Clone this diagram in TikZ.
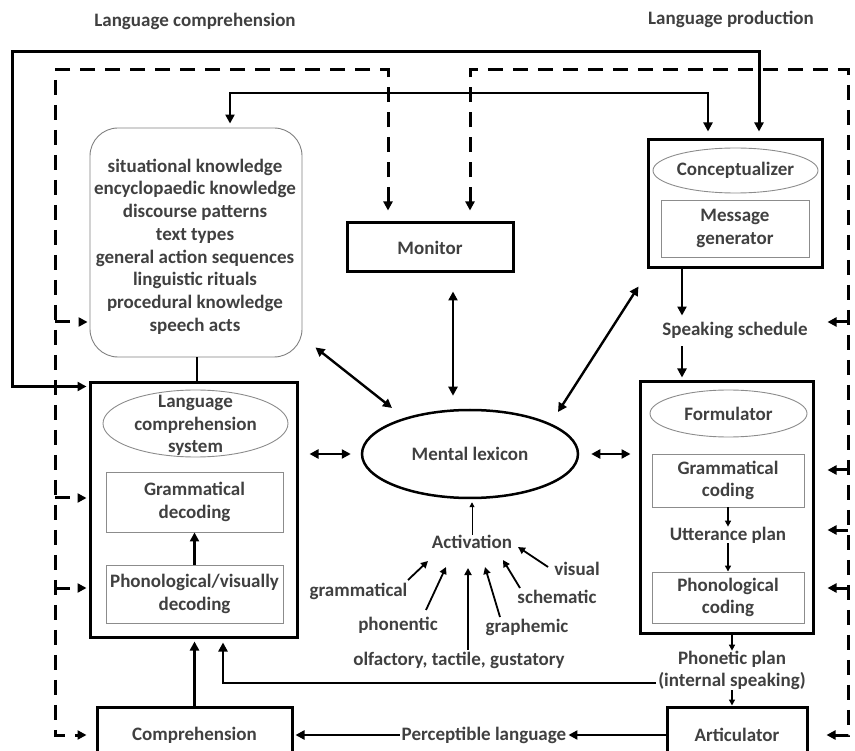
\documentclass[tikz,border=0pt]{standalone}
\usepackage{fontspec}
\setmainfont{Carlito}
\usetikzlibrary{arrows.meta,shapes.geometric,calc}

\begin{document}
\begin{tikzpicture}[x=1pt,y=-1pt,
  >={Triangle[length=9pt,width=9pt]},
  every node/.style={font=\fontsize{19}{22.7}\selectfont\bfseries, text=black!75, align=center, inner sep=0pt},
  outerbox/.style={draw=black, line width=3pt},
  innerbox/.style={draw=black!45, line width=0.9pt},
  innerell/.style={ellipse, draw=black!45, line width=0.9pt},
  conn/.style={draw=black, line width=2.4pt},
  dashconn/.style={draw=black, line width=3pt, dash pattern=on 15pt off 10pt},
  smallarr/.style={draw=black, line width=1.4pt, -{Triangle[length=6pt,width=6pt]}},
  actarr/.style={draw=black, line width=1.8pt, -{Triangle[length=7pt,width=7pt]}}]
\useasboundingbox (0,0) rectangle (855,751);

% titles
\node (ttlC) at (195,21) {Language comprehension};
\node (ttlP) at (731,19) {Language production};

% knowledge store
\node[draw=black!50, line width=0.9pt, rounded corners=28pt, minimum width=212pt, minimum height=229pt] (know) at (196,242.5) {};
\node (knowtxt) at (195,246.5) {situational knowledge\\encyclopaedic knowledge\\discourse patterns\\text types\\general action sequences\\linguistic rituals\\procedural knowledge\\speech acts};

% monitor
\node[outerbox, minimum width=166pt, minimum height=49pt] (mon) at (430,247.5) {Monitor};

% conceptualizer
\node[outerbox, minimum width=174pt, minimum height=128pt] (conc) at (735,204) {};
\node[innerell, minimum width=165pt, minimum height=45pt] (concell) at (735.5,170.5) {};
\node (conctxt) at (concell) {Conceptualizer};
\node[innerbox, minimum width=148pt, minimum height=57pt] (msg) at (735,228.5) {Message\\generator};

\node (spk) at (735,330) {Speaking schedule};

% comprehension system
\node[outerbox, minimum width=207pt, minimum height=254pt] (lc) at (193.5,510) {};
\node[innerell, minimum width=185pt, minimum height=67pt] (lcs) at (195.5,423.5) {};
\node (lcstxt) at (195.5,425.5) {Language\\comprehension\\system};
\node[innerbox, minimum width=177pt, minimum height=60pt] (gdec) at (194.5,502) {Grammatical\\decoding};
\node[innerbox, minimum width=177pt, minimum height=58pt] (pdec) at (194.5,594) {Phonological/visually\\decoding};

% formulator
\node[outerbox, minimum width=173pt, minimum height=251pt] (form) at (726.5,507.5) {};
\node[innerell, minimum width=157pt, minimum height=47pt] (formell) at (728.5,413.5) {};
\node (formtxt) at (formell) {Formulator};
\node[innerbox, minimum width=152pt, minimum height=53pt] (gcod) at (728,480.5) {Grammatical\\coding};
\node (utt) at (728,535) {Utterance plan};
\node[innerbox, minimum width=152pt, minimum height=51pt] (pcod) at (728,597.5) {Phonological\\coding};

% lexicon and activation
\node[ellipse, draw=black, line width=2.5pt, minimum width=216pt, minimum height=88pt] (lex) at (470,454) {Mental lexicon};
\node (act) at (472,542) {Activation};
\node (lgram) at (358.5,591) {grammatical};
\node (lphon) at (398,625) {phonentic};
\node (lolf) at (459,660) {olfactory, tactile, gustatory};
\node (lgraph) at (527,627) {graphemic};
\node (lschem) at (557,597) {schematic};
\node (lvis) at (577,569) {visual};

% output side
\node (phon) at (732,670.5) {Phonetic plan\\(internal speaking)};
\node[outerbox, minimum width=140pt, minimum height=56pt] (art) at (737,735) {Articulator};
\node[outerbox, minimum width=195pt, minimum height=56pt] (comp) at (194.5,735) {Comprehension};
\node (perc) at (484,735) {Perceptible language};

% long solid feedback loops
\coordinate (tl) at (12,52);
\draw[conn, line width=3pt, <->] ([xshift=24pt,yshift=7pt]conc.north) |- (tl) |- ([xshift=-2pt,yshift=-5pt]lc.north west);
\coordinate (t2) at (470,93);
\draw[conn, <->] ([xshift=-27pt,yshift=7pt]conc.north) |- (t2) -| ([xshift=34pt,yshift=4pt]know.north);

% dashed monitoring loops
\coordinate (dtl) at (55,70);
\coordinate (dtr) at (848,70);
\draw[dashconn, <->] ([xshift=-42pt,yshift=11pt]mon.north) |- (dtl) |- ([xshift=-9pt]comp.west);
\draw[dashconn, <->] ([xshift=40pt,yshift=11pt]mon.north) |- (dtr) |- ([xshift=18pt]art.east);
\foreach \yy/\tgt in {322/know, 498/lc, 588/lc}{
  \coordinate (bl) at (55,\yy);
  \draw[dashconn, ->] (bl) -- ([xshift=-2pt]bl -| \tgt.west);
}
\foreach \yy in {322, 470, 530, 588}{
  \coordinate (br) at (848,\yy);
  \draw[dashconn, ->] (br) -- ([xshift=13pt]br -| form.east);
}

% links around the lexicon
\draw[conn, <->, shorten <=18pt, shorten >=13pt] ([xshift=23pt]mon.south) -- ([xshift=23pt]mon.south |- lex.north);
\draw[conn, <->] ($(know.south east)+(13,-10)$) -- ($(lex.center)+(-78,-46)$);
\draw[conn, <->] ($(conc.south west)+(-8,17)$) -- ($(lex.center)+(88,-42)$);
\draw[conn, <->] ([xshift=11pt]lc.east |- lex.west) -- ([xshift=-10pt]lex.west);
\draw[conn, <->] ([xshift=12pt]lex.east) -- ([xshift=-8pt]form.west |- lex.east);
\draw[draw=black, line width=1pt, -{Triangle[length=5pt,width=5pt]}, shorten >=3pt] (act.north) -- (act.north |- lex.south);

% sources of activation
\draw[actarr] ($(lgram)+(49.5,-11)$) -- ($(act)+(-44,19)$);
\draw[actarr] ($(lphon)+(28,-15)$) -- ($(act)+(-26,25)$);
\draw[actarr] ($(lolf)+(9,-10)$) -- ($(act)+(-4,26)$);
\draw[actarr] ($(lgraph)+(-27,-10)$) -- ($(act)+(13,25)$);
\draw[actarr] ($(lschem)+(-37,-9)$) -- ($(act)+(31,18)$);
\draw[actarr] ($(lvis)+(-29,-2)$) -- ($(act)+(46,5)$);

% comprehension chain
\draw[draw=black, line width=1.5pt] ([xshift=1pt]know.south) -- ([xshift=1pt]know.south |- lc.north);
\draw[conn, ->] (pdec.north) -- (gdec.south);
\draw[conn, ->, shorten >=3pt] (comp.north) -- (comp.north |- lc.south);
\coordinate (pp) at ([xshift=-2pt,yshift=-12.5pt]phon.west);
\draw[conn, ->, shorten >=4pt] (pp) -| ([xshift=29.5pt]lc.south);
\draw[conn, ->, shorten >=2pt] (art.west) -- (perc.east);
\draw[conn, ->, shorten <=2pt, shorten >=2pt] (perc.west) -- (comp.east);

% production chain
\coordinate (fx) at (682,0);
\draw[conn, ->, shorten >=6pt] (conc.south -| fx) -- (spk.north -| fx);
\draw[conn, ->, shorten <=8pt, shorten >=3pt] (spk.south -| fx) -- (form.north -| fx);
\draw[smallarr] (gcod.south) -- (utt.north);
\draw[smallarr] (utt.south) -- (pcod.north);
\draw[smallarr] (form.south -| phon.north) -- (phon.north);
\draw[smallarr] (phon.south) -- (phon.south |- art.north);
\end{tikzpicture}
\end{document}
